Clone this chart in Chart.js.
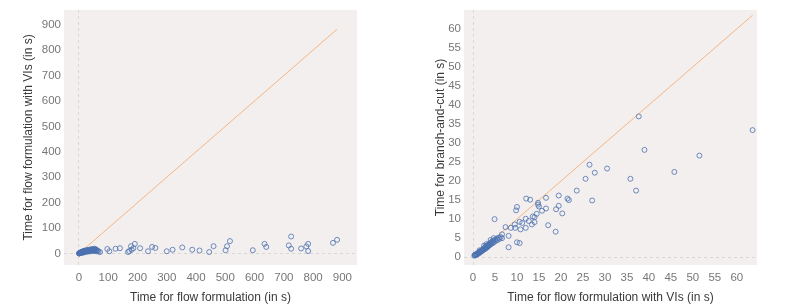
<!DOCTYPE html>
<html>
<head>
<meta charset="utf-8">
<script src="https://cdn.jsdelivr.net/npm/chart.js@4.4.1/dist/chart.umd.min.js"></script>
<style>
  html, body { margin: 0; padding: 0; background: #fff; }
  .box { position: absolute; top: 0; height: 308px; }
  #boxLeft { left: 0; width: 400px; }
  #boxRight { left: 400px; width: 393px; }
</style>
</head>
<body>
<div class="box" id="boxLeft"><canvas id="chartLeft"></canvas></div>
<div class="box" id="boxRight"><canvas id="chartRight"></canvas></div>
<script>
// ---- left panel: flow formulation vs flow formulation with VIs ----
const leftX = [
  0.5, 1, 1.5, 2, 2.5, 3, 3.5, 4, 5, 5.5, 6, 7, 8, 9, 10, 11, 12, 13, 14, 15, 16, 17, 18, 19, 20,
  22, 23, 24, 25, 27, 28, 30, 31, 32, 34, 35, 37, 38, 40, 41, 43, 44, 45, 47, 48, 50, 52, 53, 55,
  57, 58, 60, 62, 64, 67,
  72, 54, 97, 104, 125, 140, 168, 172, 178, 180, 186, 191, 209, 236, 250, 261, 300, 320, 353,
  387, 412, 445, 460, 501, 506, 516, 594, 634, 640, 717, 725, 725, 759, 777, 783, 783, 868, 882
];
const leftY = [
  0.3, 0.8, 1.2, 1, 2, 1.5, 2.5, 3, 2, 4, 3, 5, 4, 6, 3, 7, 5, 8, 6, 9, 4, 10, 7, 11, 8,
  9, 12, 6, 10, 13, 9, 11, 14, 8, 12, 15, 10, 13, 16, 9, 12, 14, 18, 11, 15, 13, 17, 10, 14,
  12, 16, 9, 13, 11, 8,
  6, 19, 18, 9, 19, 21, 6, 10, 29, 15, 21, 38, 21, 9, 26, 22, 9, 15, 24,
  15, 12, 6, 29, 13, 29, 49, 13, 38, 26, 32, 67, 19, 20, 28, 38, 10, 42, 54
];
const leftTicks = [0, 100, 200, 300, 400, 500, 600, 700, 800, 900];

// ---- right panel: flow formulation with VIs vs branch-and-cut ----
const rightX = [
  0.3, 0.4, 0.5, 0.6, 0.7, 0.8, 0.9, 1.0, 1.1, 1.2, 1.3, 1.4, 1.5, 1.6, 1.7, 1.8, 1.9, 2.0, 2.1,
  2.2, 2.3, 2.4, 2.5, 2.6, 2.7, 2.8, 2.9, 3.0, 3.1, 3.2, 3.3, 3.4, 3.5, 3.6, 3.7, 3.8, 3.9, 4.0,
  4.2, 4.3, 4.5, 4.6, 4.8, 5.0, 5.2, 5.4, 5.6, 5.8, 6.0, 6.3, 6.6, 2.5, 3.0, 1.5, 4.0, 4.7,
  4.9, 6.6, 7.4, 8.1, 8.1, 8.6, 9.5, 9.6, 9.8, 10.0, 10.0, 10.6, 10.6, 10.8, 11.2, 12.0, 12.0,
  12.1, 12.7, 13.0, 13.4, 13.6, 14.0, 14.0, 14.5, 14.8, 14.8, 15.0, 15.7, 16.6, 16.6, 17.1,
  18.8, 18.9, 19.5, 19.5, 20.3, 21.5, 21.8, 23.6, 25.6, 26.5, 27.1, 27.7, 30.5, 35.8, 37.1,
  37.7, 39.0, 45.8, 51.5, 63.6
];
const rightY = [
  0.4, 0.6, 0.5, 0.7, 0.6, 0.8, 0.7, 1.0, 0.9, 1.1, 1.0, 1.3, 1.2, 1.5, 1.4, 1.6, 1.5, 1.8, 1.7,
  2.0, 1.9, 2.2, 2.0, 2.4, 2.2, 2.6, 2.3, 2.8, 2.5, 3.0, 2.7, 3.2, 2.9, 3.4, 3.1, 3.6, 3.3, 3.8,
  3.5, 4.1, 3.7, 4.3, 4.0, 4.6, 4.3, 4.9, 4.5, 5.1, 4.8, 5.3, 5.0, 3.0, 3.4, 1.8, 4.5, 5.0,
  10.0, 6.0, 7.9, 5.6, 2.6, 7.7, 8.6, 7.7, 12.3, 13.2, 3.9, 9.3, 3.7, 7.3, 9.0, 10.1, 7.7,
  15.4, 9.5, 15.1, 8.6, 10.7, 10.5, 9.2, 11.4, 14.3, 13.8, 13.3, 12.2, 15.6, 12.8, 8.4,
  6.7, 12.6, 16.2, 13.5, 11.5, 15.4, 15.0, 17.5, 20.6, 24.3, 14.9, 22.2, 23.3, 20.6, 17.5,
  37.0, 28.2, 22.4, 26.7, 33.4
];
const rightTicks = [0, 5, 10, 15, 20, 25, 30, 35, 40, 45, 50, 55, 60];

const tickFont = { family: 'Liberation Sans', size: 11.5 };
const titleFont = { family: 'Liberation Sans', size: 12 };

const plotBg = {
    id: 'plotBg',
    beforeDraw(chart) {
        const { ctx, chartArea: a } = chart;
        ctx.save();
        ctx.fillStyle = '#f3efef';
        ctx.fillRect(a.left, a.top, a.width, a.height);
        ctx.restore();
    }
};

function makeChart(id, xs, ys, ticks, range, xTitle, yTitle, rightPad, yTitlePad) {
    const pts = xs.map((x, i) => ({ x: x, y: ys[i] }));
    const lo = Math.min(...xs), hi = Math.max(...xs);
    const zeroGrid = c => (c.tick && c.tick.value === 0) ? '#d9d6d6' : 'rgba(0,0,0,0)';
    const axis = (min, max, title, pad, isY) => ({
        type: 'linear',
        min: min, max: max,
        afterBuildTicks: s => { s.ticks = ticks.map(v => ({ value: v })); },
        afterFit: s => { if (isY) s.width = 64; else s.height = 43; },
        grid: { color: zeroGrid, drawTicks: false, lineWidth: 1 },
        border: { display: false, dash: [3, 3] },
        ticks: { color: '#777', font: tickFont, padding: isY ? 3 : 6 },
        title: {
            display: true, text: title, color: '#3a3a3a', font: titleFont,
            padding: isY ? { top: pad, bottom: 0 } : { top: 0, bottom: 3 }
        }
    });

    return new Chart(document.getElementById(id), {
        data: {
            datasets: [{
                type: 'scatter',
                data: pts,
                order: 1,
                pointStyle: 'circle',
                pointRadius: 2.5,
                pointBorderWidth: 1,
                borderColor: 'rgba(76,114,176,0.8)',
                backgroundColor: 'rgba(0,0,0,0)'
            }, {
                type: 'line',
                data: [{ x: lo, y: lo }, { x: hi, y: hi }],
                order: 2,
                borderColor: '#f7b57f',
                borderWidth: 1,
                pointRadius: 0
            }]
        },
        options: {
            responsive: true,
            maintainAspectRatio: false,
            animation: false,
            layout: { padding: { left: 0, top: 4, right: rightPad, bottom: 0 } },
            plugins: {
                legend: { display: false },
                tooltip: { enabled: false }
            },
            scales: {
                x: axis(range[0], range[1], xTitle, 0, false),
                y: axis(range[2], range[3], yTitle, yTitlePad, true)
            }
        },
        plugins: [plotBg]
    });
}

makeChart('chartLeft', leftX, leftY, leftTicks, [-51, 950, -45, 958],
    'Time for flow formulation (in s)', 'Time for flow formulation with VIs (in s)', 43, 21);
makeChart('chartRight', rightX, rightY, rightTicks, [-2.05, 64.6, -2.06, 65],
    'Time for flow formulation with VIs (in s)', 'Time for branch-and-cut (in s)', 36, 33);
</script>
</body>
</html>
